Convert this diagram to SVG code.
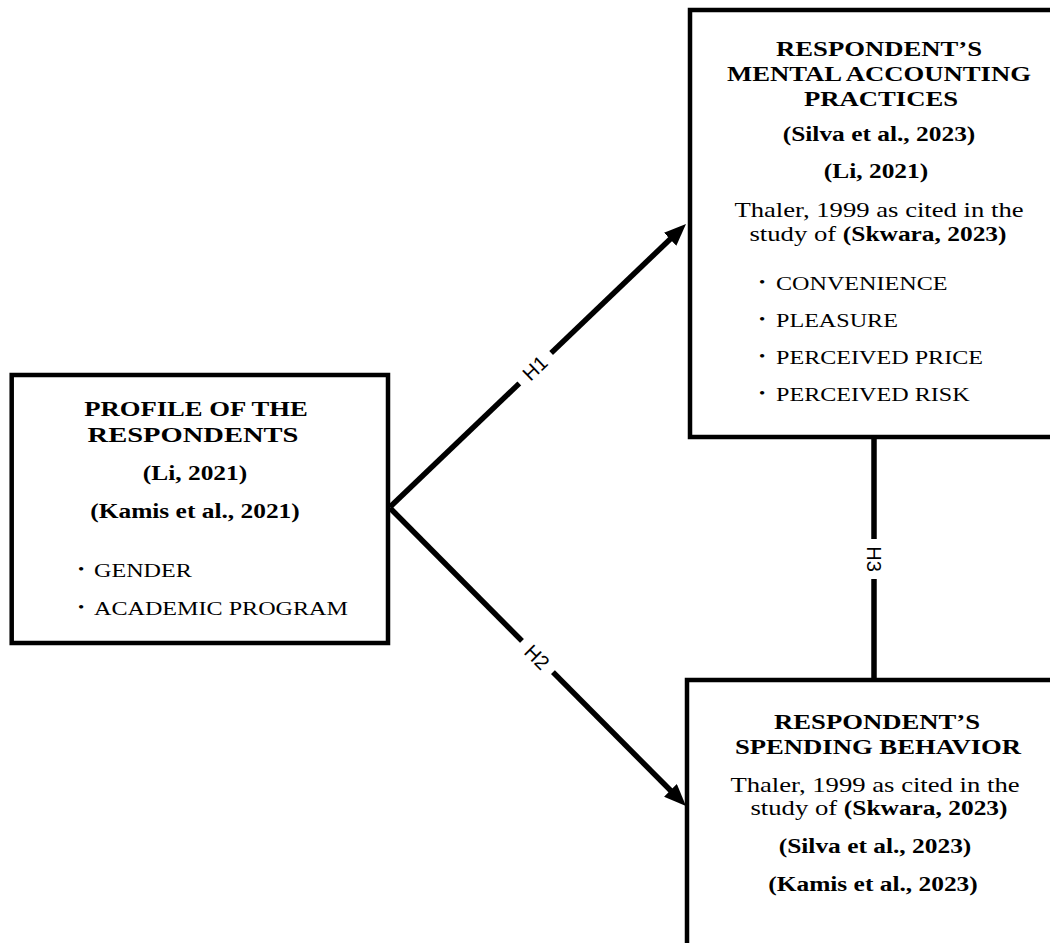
<svg xmlns="http://www.w3.org/2000/svg" width="1050" height="943" viewBox="0 0 1050 943">
<style>
  .box { fill: #fff; stroke: #000; stroke-width: 4.5; }
  .t { font-family: "Liberation Serif", "Times New Roman", serif; fill: #000; }
  .ttl { font-size: 21px; font-weight: bold; text-anchor: middle; }
  .cit { font-size: 20px; font-weight: bold; text-anchor: middle; }
  .reg { font-size: 21px; text-anchor: middle; }
  .item { font-size: 19px; }
  .dot { font-size: 14px; }
  .conn { stroke: #000; stroke-width: 5.5; fill: none; }
  .lbl { font-family: "Liberation Sans", Arial, sans-serif; font-size: 20px; fill: #000; text-anchor: middle; dominant-baseline: central; }
  .lblbg { fill: #fff; stroke: none; }
</style>
<defs>
  <marker id="arr" markerUnits="userSpaceOnUse" viewBox="0 0 22 18" markerWidth="22" markerHeight="18" refX="9" refY="9" orient="auto">
    <path d="M0,0 L22,9 L0,18 z" fill="#000"/>
  </marker>
</defs>
<rect width="1050" height="943" fill="#fff"/>

<g id="connectors">
  <line class="conn" x1="390" y1="507" x2="676.6" y2="233" marker-end="url(#arr)"/>
  <line class="conn" x1="390" y1="508" x2="676.8" y2="796.8" marker-end="url(#arr)"/>
  <line class="conn" x1="874" y1="437" x2="874" y2="680"/>
  <g transform="translate(535,368) rotate(-43.7)">
    <rect class="lblbg" x="-22" y="-11" width="44" height="22"/>
    <text class="lbl" x="0" y="0">H1</text>
  </g>
  <g transform="translate(537,657) rotate(45)">
    <rect class="lblbg" x="-22" y="-11" width="44" height="22"/>
    <text class="lbl" x="0" y="0">H2</text>
  </g>
  <g transform="translate(874,559) rotate(90)">
    <rect class="lblbg" x="-20" y="-11" width="40" height="22"/>
    <text class="lbl" x="0" y="0">H3</text>
  </g>
</g>

<g id="node-profile">
  <rect class="box" x="11.7" y="375" width="376.3" height="268"/>
  <text class="t ttl" transform="translate(196,416) scale(1.27,1)">PROFILE OF THE</text>
  <text class="t ttl" transform="translate(193,442) scale(1.27,1)" textLength="166" lengthAdjust="spacingAndGlyphs">RESPONDENTS</text>
  <text class="t cit" transform="translate(195,480) scale(1.27,1)">(Li, 2021)</text>
  <text class="t cit" transform="translate(195,518) scale(1.27,1)">(Kamis et al., 2021)</text>
  <text class="t dot" transform="translate(78,574) scale(1.27,1)">•</text>
  <text class="t item" transform="translate(94,577) scale(1.27,1)">GENDER</text>
  <text class="t dot" transform="translate(78,612) scale(1.27,1)">•</text>
  <text class="t item" transform="translate(94,615) scale(1.27,1)">ACADEMIC PROGRAM</text>
</g>

<g id="node-mental">
  <rect class="box" x="690" y="10" width="400" height="427"/>
  <text class="t ttl" transform="translate(879,56) scale(1.27,1)">RESPONDENT’S</text>
  <text class="t ttl" transform="translate(879,81) scale(1.27,1)">MENTAL ACCOUNTING</text>
  <text class="t ttl" transform="translate(881,106) scale(1.27,1)">PRACTICES</text>
  <text class="t cit" transform="translate(879,141) scale(1.27,1)">(Silva et al., 2023)</text>
  <text class="t cit" transform="translate(876,178) scale(1.27,1)">(Li, 2021)</text>
  <text class="t reg" transform="translate(879,217) scale(1.27,1)">Thaler, 1999 as cited in the</text>
  <text class="t reg" transform="translate(878,241) scale(1.27,1)">study of <tspan font-weight="bold" font-size="20">(Skwara, 2023)</tspan></text>
  <text class="t dot" transform="translate(759,287) scale(1.27,1)">•</text>
  <text class="t item" transform="translate(776,290) scale(1.27,1)">CONVENIENCE</text>
  <text class="t dot" transform="translate(759,324) scale(1.27,1)">•</text>
  <text class="t item" transform="translate(776,327) scale(1.27,1)">PLEASURE</text>
  <text class="t dot" transform="translate(759,361) scale(1.27,1)">•</text>
  <text class="t item" transform="translate(776,364) scale(1.27,1)">PERCEIVED PRICE</text>
  <text class="t dot" transform="translate(759,398) scale(1.27,1)">•</text>
  <text class="t item" transform="translate(776,401) scale(1.27,1)">PERCEIVED RISK</text>
</g>

<g id="node-spending">
  <rect class="box" x="687" y="680" width="400" height="300"/>
  <text class="t ttl" transform="translate(877,729) scale(1.27,1)">RESPONDENT’S</text>
  <text class="t ttl" transform="translate(878,754) scale(1.27,1)">SPENDING BEHAVIOR</text>
  <text class="t reg" transform="translate(875,792) scale(1.27,1)">Thaler, 1999 as cited in the</text>
  <text class="t reg" transform="translate(879,815) scale(1.27,1)">study of <tspan font-weight="bold" font-size="20">(Skwara, 2023)</tspan></text>
  <text class="t cit" transform="translate(875,853) scale(1.27,1)">(Silva et al., 2023)</text>
  <text class="t cit" transform="translate(873,891) scale(1.27,1)">(Kamis et al., 2023)</text>
</g>
</svg>
